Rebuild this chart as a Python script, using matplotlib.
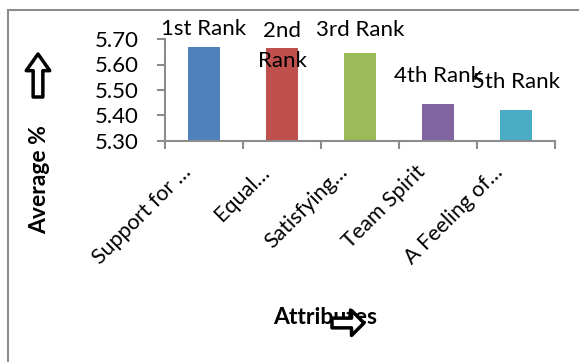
import matplotlib.pyplot as plt
from matplotlib.patches import Rectangle, FancyArrowPatch
from matplotlib.transforms import ScaledTranslation

plt.rcParams["font.family"] = ["Lato", "DejaVu Sans"]

atributos = ["Support for …", "Equal…", "Satisfying…", "Team Spirit", "A Feeling of…"]
medias = [5.67, 5.665, 5.645, 5.445, 5.42]
rotulos = ["1st Rank", "2nd\nRank", "3rd Rank", "4th Rank", "5th Rank"]
cores = ["#4F81BD", "#C0504D", "#9BBB59", "#8064A2", "#4BACC6"]
ticks_y = [5.30, 5.40, 5.50, 5.60, 5.70]

# deslocamento (px) de cada rótulo acima do topo da barra
desloc_rotulo = [18, 2, 23, 28, 28]

fig = plt.figure(figsize=(5.79, 3.62), dpi=100)
ax = fig.add_axes([165 / 579, 1 - 141 / 362, 390 / 579, 102 / 362])

xs = range(len(atributos))
ax.bar(xs, medias, width=0.41, color=cores, zorder=2)

ax.set_ylim(5.30, 5.70)
ax.set_xlim(-0.5, len(atributos) - 0.5)
ax.set_yticks(ticks_y)
ax.set_yticklabels([f"{v:.2f}" for v in ticks_y])

cinza = "#8c8c8c"
for lado in ("top", "right"):
    ax.spines[lado].set_visible(False)
for lado in ("left", "bottom"):
    ax.spines[lado].set_color(cinza)
    ax.spines[lado].set_linewidth(1.5)

ax.tick_params(axis="y", length=6, width=1.5, color=cinza, pad=13, labelsize=16)
ax.set_xticks(list(xs))
ax.set_xticks([i - 0.5 for i in range(len(atributos) + 1)], minor=True)
ax.tick_params(axis="x", which="major", length=0, pad=0, labelsize=15.5)
ax.tick_params(axis="x", which="minor", length=6, width=1.5, color=cinza)
ax.set_xticklabels(atributos, rotation=45, ha="right", va="center",
                   rotation_mode="anchor")
desloca = ScaledTranslation(-16 / 100, -28 / 100, fig.dpi_scale_trans)
for rot in ax.get_xticklabels():
    rot.set_transform(rot.get_transform() + desloca)

for x, v, txt, dy in zip(xs, medias, rotulos, desloc_rotulo):
    ax.annotate(txt, (x, v), xytext=(0, dy), textcoords="offset pixels",
                ha="center", va="center", fontsize=16, linespacing=1.65)

fig.text(40 / 579, 1 - 180 / 362, "Average %", rotation=90, ha="center",
         va="center", fontsize=16.5, fontweight="bold")
fig.text(325 / 579, 1 - 318 / 362, "Attributes", ha="center", va="center",
         fontsize=16.5, fontweight="bold")

# setas em contorno preto com miolo branco
seta_cima = FancyArrowPatch((38 / 579, 1 - 97 / 362), (38 / 579, 1 - 54 / 362),
                            transform=fig.transFigure,
                            arrowstyle="simple,head_length=12,head_width=17,tail_width=7",
                            facecolor="white", edgecolor="black", lw=2.5,
                            shrinkA=0, shrinkB=0, mutation_scale=1)
seta_dir = FancyArrowPatch((332 / 579, 1 - 323 / 362), (364 / 579, 1 - 323 / 362),
                           transform=fig.transFigure,
                           arrowstyle="simple,head_length=9,head_width=18,tail_width=7",
                           facecolor="white", edgecolor="black", lw=2.5,
                           shrinkA=0, shrinkB=0, mutation_scale=1, zorder=5)
fig.patches.extend([seta_cima, seta_dir])

# moldura externa
fig.patches.append(Rectangle((8 / 579, -0.1), 1.0, 1 - 10 / 362 + 0.1,
                             transform=fig.transFigure, fill=False,
                             edgecolor=cinza, lw=1.5))

fig.savefig("out.png", dpi=100)
